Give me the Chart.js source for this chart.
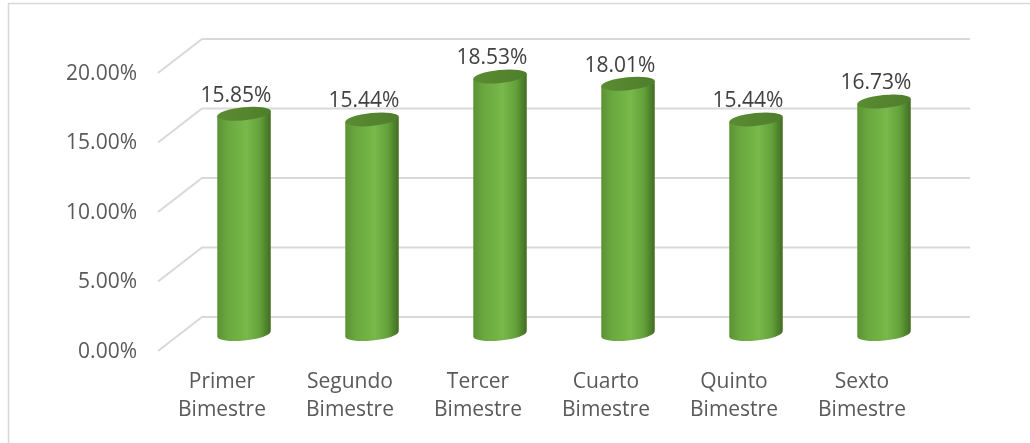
<!DOCTYPE html>
<html>
<head>
<meta charset="utf-8">
<script src="https://cdn.jsdelivr.net/npm/chart.js@4.4.0/dist/chart.umd.min.js"></script>
<style>
  html, body { margin: 0; padding: 0; background: #fff; }
  #wrap { width: 1030px; height: 443px; }
</style>
</head>
<body>
<div id="wrap"><canvas id="grafico" width="1030" height="443"></canvas></div>
<script>
const categorias = [
  ['Primer', 'Bimestre'],
  ['Segundo', 'Bimestre'],
  ['Tercer', 'Bimestre'],
  ['Cuarto', 'Bimestre'],
  ['Quinto', 'Bimestre'],
  ['Sexto', 'Bimestre']
];
const porcentajes = [15.85, 15.44, 18.53, 18.01, 15.44, 16.73];
const ticksY = [0, 5, 10, 15, 20];

// 3D depth of the floor (back wall -> front edge), cylinders sit half way
const PROF_X = -44;
const PROF_Y = 34;
const FUENTE = '21px "Open Sans"';

const cilindros3D = {
  id: 'cilindros3D',
  beforeDraw(chart) {
    const ctx = chart.ctx;
    ctx.save();
    ctx.fillStyle = '#fff';
    ctx.fillRect(0, 0, chart.width, chart.height);
    // outer frame
    ctx.strokeStyle = '#d9d9d9';
    ctx.lineWidth = 1.5;
    ctx.strokeRect(8.5, 3.5, 1100, 500);
    ctx.restore();
  },
  beforeDatasetsDraw(chart) {
    const { ctx, chartArea, scales } = chart;
    ctx.save();
    // gridlines: floor diagonal + back wall
    ctx.strokeStyle = '#d9d9d9';
    ctx.lineWidth = 2;
    ctx.font = FUENTE;
    ctx.fillStyle = '#595959';
    ctx.textAlign = 'right';
    ctx.textBaseline = 'middle';
    ticksY.forEach(t => {
      const y = scales.y.getPixelForValue(t);
      ctx.beginPath();
      ctx.moveTo(chartArea.left + PROF_X, y + PROF_Y);
      ctx.lineTo(chartArea.left, y);
      ctx.lineTo(chartArea.right, y);
      ctx.stroke();
      ctx.fillText(t.toFixed(2) + '%', 137, y + PROF_Y + 1);
    });
    // category labels along the front edge
    ctx.textAlign = 'center';
    categorias.forEach((lineas, i) => {
      const x = scales.x.getPixelForValue(i) + PROF_X;
      lineas.forEach((txt, j) => ctx.fillText(txt, x, 382 + j * 28));
    });
    ctx.restore();
  },
  afterDatasetsDraw(chart) {
    const ctx = chart.ctx;
    const meta = chart.getDatasetMeta(0);
    const rot = -0.1;
    const ry = 6.5;
    ctx.save();
    meta.data.forEach((bar, i) => {
      const cx = bar.x + PROF_X / 2;
      const top = bar.y + PROF_Y / 2;
      const base = bar.base + PROF_Y / 2;
      const r = bar.width / 2;
      const dx = r * Math.cos(rot);
      const dy = r * Math.sin(rot);

      // body
      const g = ctx.createLinearGradient(cx - r, 0, cx + r, 0);
      g.addColorStop(0, '#5c9234');
      g.addColorStop(0.2, '#6aa83f');
      g.addColorStop(0.55, '#79b84b');
      g.addColorStop(0.8, '#62a03a');
      g.addColorStop(1, '#416c22');
      ctx.beginPath();
      ctx.ellipse(cx, base, r, ry, rot, 0, Math.PI);
      ctx.lineTo(cx - dx, top - dy);
      ctx.lineTo(cx + dx, top + dy);
      ctx.closePath();
      ctx.fillStyle = g;
      ctx.fill();

      // top cap
      const gt = ctx.createLinearGradient(cx - r, 0, cx + r, 0);
      gt.addColorStop(0, '#5a8c32');
      gt.addColorStop(1, '#4f7e2b');
      ctx.beginPath();
      ctx.ellipse(cx, top, r, ry, rot, 0, Math.PI * 2);
      ctx.fillStyle = gt;
      ctx.fill();

      // value label
      ctx.font = FUENTE;
      ctx.fillStyle = '#404040';
      ctx.textAlign = 'center';
      ctx.textBaseline = 'middle';
      ctx.fillText(porcentajes[i].toFixed(2) + '%', cx - 8, top - 18);
    });
    ctx.restore();
  }
};

new Chart(document.getElementById('grafico'), {
  type: 'bar',
  data: {
    labels: categorias,
    datasets: [{
      data: porcentajes,
      backgroundColor: 'rgba(0,0,0,0)',
      borderWidth: 0,
      categoryPercentage: 1,
      barPercentage: 0.42
    }]
  },
  options: {
    responsive: false,
    animation: false,
    layout: { padding: { left: 202, right: 60, top: 39, bottom: 126 } },
    plugins: { legend: { display: false }, tooltip: { enabled: false } },
    scales: {
      x: { display: false },
      y: { display: false, min: 0, max: 20 }
    }
  },
  plugins: [cilindros3D]
});
</script>
</body>
</html>
